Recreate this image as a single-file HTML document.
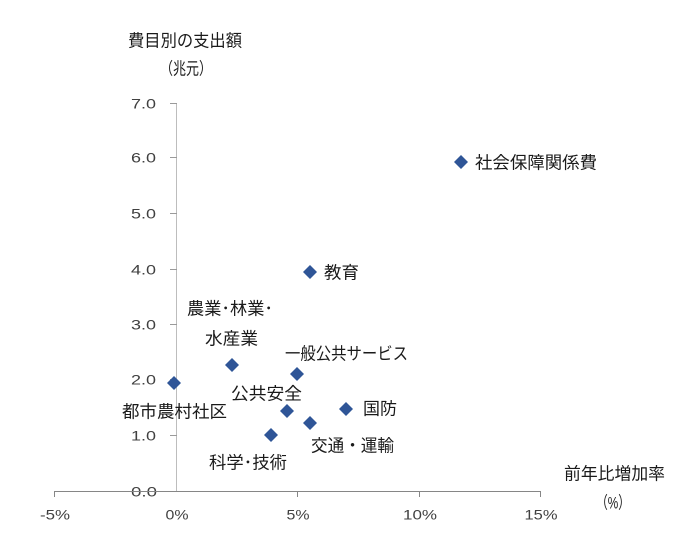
<!DOCTYPE html>
<html><head><meta charset="utf-8"><style>
html,body{margin:0;padding:0;background:#fff;}
svg{display:block;}
.t{font-family:"Liberation Sans","Noto Sans CJK JP",sans-serif;font-size:17px;fill:#1a1a1a;}
.n{font-family:"Liberation Sans","Noto Sans CJK JP",sans-serif;font-size:14px;fill:#404040;}
</style></head><body>
<svg width="690" height="533" viewBox="0 0 690 533" xmlns="http://www.w3.org/2000/svg">
<rect width="690" height="533" fill="#fff"/>
<!-- y axis -->
<line x1="176.5" y1="103" x2="176.5" y2="491" stroke="#bdbdbd" stroke-width="1"/>
<g stroke="#9a9a9a" stroke-width="1">
<line x1="170" y1="103.5" x2="177" y2="103.5"/>
<line x1="170" y1="157.5" x2="177" y2="157.5"/>
<line x1="170" y1="213.5" x2="177" y2="213.5"/>
<line x1="170" y1="269.5" x2="177" y2="269.5"/>
<line x1="170" y1="324.5" x2="177" y2="324.5"/>
<line x1="170" y1="379.5" x2="177" y2="379.5"/>
<line x1="170" y1="435.5" x2="177" y2="435.5"/>
</g>
<!-- y tick labels -->
<g class="n" text-anchor="end">
<text x="156" y="108.5" textLength="25" lengthAdjust="spacingAndGlyphs">7.0</text>
<text x="156" y="162.5" textLength="25" lengthAdjust="spacingAndGlyphs">6.0</text>
<text x="156" y="218.5" textLength="25" lengthAdjust="spacingAndGlyphs">5.0</text>
<text x="156" y="274.5" textLength="25" lengthAdjust="spacingAndGlyphs">4.0</text>
<text x="156" y="329.5" textLength="25" lengthAdjust="spacingAndGlyphs">3.0</text>
<text x="156" y="384.5" textLength="25" lengthAdjust="spacingAndGlyphs">2.0</text>
<text x="156" y="440.5" textLength="25" lengthAdjust="spacingAndGlyphs">1.0</text>
<text x="157" y="496.5" textLength="26" lengthAdjust="spacingAndGlyphs">0.0</text>
</g>
<!-- x axis -->
<line x1="54" y1="491.5" x2="541" y2="491.5" stroke="#868686" stroke-width="1"/>
<g stroke="#868686" stroke-width="1">
<line x1="54.5" y1="491" x2="54.5" y2="497"/>
<line x1="297.5" y1="491" x2="297.5" y2="497"/>
<line x1="419.5" y1="491" x2="419.5" y2="497"/>
<line x1="540.5" y1="491" x2="540.5" y2="497"/>
</g>
<g class="n" text-anchor="middle">
<text x="55" y="519.5" textLength="30" lengthAdjust="spacingAndGlyphs">-5%</text>
<text x="177" y="519.5" textLength="23" lengthAdjust="spacingAndGlyphs">0%</text>
<text x="298" y="519.5" textLength="23" lengthAdjust="spacingAndGlyphs">5%</text>
<text x="420" y="519.5" textLength="34" lengthAdjust="spacingAndGlyphs">10%</text>
<text x="541" y="519.5" textLength="33" lengthAdjust="spacingAndGlyphs">15%</text>
</g>
<!-- axis titles -->
<g class="t">
<text x="128" y="46.5" textLength="114" lengthAdjust="spacingAndGlyphs">費目別の支出額</text>
<text x="160" y="74.5" textLength="52" lengthAdjust="spacingAndGlyphs">（兆元）</text>
<text x="564" y="479.5" textLength="101" lengthAdjust="spacingAndGlyphs">前年比増加率</text>
<text x="596" y="508.5" textLength="34" lengthAdjust="spacingAndGlyphs">（%）</text>
</g>
<!-- markers -->
<g fill="#2F5597">
<path d="M461 155 L468 162 L461 169 L454 162 Z"/>
<path d="M310 265 L317 272 L310 279 L303 272 Z"/>
<path d="M232 358 L239 365 L232 372 L225 365 Z"/>
<path d="M297 367 L304 374 L297 381 L290 374 Z"/>
<path d="M174 376 L181 383 L174 390 L167 383 Z"/>
<path d="M287 404 L294 411 L287 418 L280 411 Z"/>
<path d="M346 402 L353 409 L346 416 L339 409 Z"/>
<path d="M310 416 L317 423 L310 430 L303 423 Z"/>
<path d="M271 428 L278 435 L271 442 L264 435 Z"/>
</g>
<!-- data labels -->
<g class="t">
<text x="475" y="168.5" textLength="122" lengthAdjust="spacingAndGlyphs">社会保障関係費</text>
<text x="324" y="278.5" textLength="35" lengthAdjust="spacingAndGlyphs">教育</text>
<text x="187" y="314.5" textLength="86" lengthAdjust="spacingAndGlyphs">農業･林業･</text>
<text x="205" y="344.5" textLength="53" lengthAdjust="spacingAndGlyphs">水産業</text>
<text x="285" y="359.5" textLength="123" lengthAdjust="spacingAndGlyphs">一般公共サービス</text>
<text x="231" y="399.5" textLength="71" lengthAdjust="spacingAndGlyphs">公共安全</text>
<text x="122" y="417.5" textLength="105" lengthAdjust="spacingAndGlyphs">都市農村社区</text>
<text x="363" y="414.5" textLength="34" lengthAdjust="spacingAndGlyphs">国防</text>
<text x="311" y="451.5" textLength="83" lengthAdjust="spacingAndGlyphs">交通・運輸</text>
<text x="209" y="468.5" textLength="78" lengthAdjust="spacingAndGlyphs">科学･技術</text>
</g>
</svg>
</body></html>
